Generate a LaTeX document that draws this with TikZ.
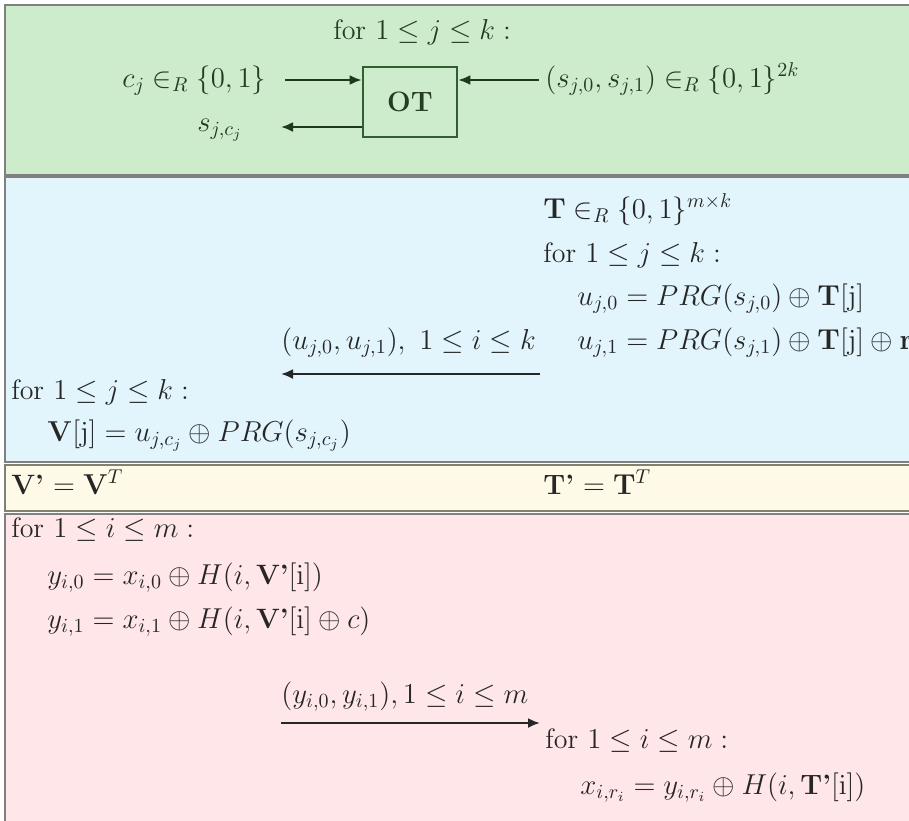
\documentclass[tikz,border=0pt]{standalone}
\usetikzlibrary{arrows.meta}
\definecolor{pgreen}{RGB}{205,236,204}
\definecolor{pblue}{RGB}{226,245,253}
\definecolor{pyellow}{RGB}{255,249,232}
\definecolor{ppink}{RGB}{255,231,233}
\definecolor{pborder}{RGB}{128,128,128}
\definecolor{otgreen}{RGB}{50,95,50}
\definecolor{gtext}{RGB}{35,60,35}
\tikzset{
  panel/.style={draw=pborder, line width=1.1pt},
  txt/.style={anchor=base west, inner sep=0pt, font=\fontsize{14}{17}\selectfont, text=black!85},
  gtxt/.style={txt, text=gtext},
  msg/.style={line width=1.1pt, -{Latex[length=6pt,width=5pt]}, draw=black!85},
  otarrow/.style={line width=1.1pt, -{Latex[length=6pt,width=5pt]}, draw=otgreen!60!black},
  otbox/.style={draw=otgreen, line width=1.3pt, fill=pgreen, minimum width=47pt, minimum height=35pt, inner sep=0pt, text=gtext, font=\fontsize{14}{17}\selectfont\bfseries}
}
\begin{document}
\begin{tikzpicture}[x=0.5pt,y=-0.5pt]
\useasboundingbox (0,0) rectangle (909,820);
% panels
\path[panel, fill=pgreen] (5,5) rectangle (920,175);
\path[panel, fill=pblue] (5,177) rectangle (920,462);
\path[panel, fill=pyellow, draw=pborder!90!olive] (5,465) rectangle (920,511);
\path[panel, fill=ppink] (5,514) rectangle (920,830);
% green: OT
\node[gtxt] (forOT) at (333,39) {for $1\le j\le k:$};
\node[gtxt] (cj) at (122,87) {$c_j\in_R\{0,1\}$};
\node[gtxt] (spair) at (545,87) {$(s_{j,0},s_{j,1})\in_R\{0,1\}^{2k}$};
\node[gtxt] (scj) at (197,131) {$s_{j,c_j}$};
\node[otbox] (ot) at (410,102) {OT};
\coordinate (cjend) at (285,80);
\coordinate (spairend) at (539,80);
\coordinate (scjend) at (281,127);
\draw[otarrow] (cjend) -- (ot.west |- cjend);
\draw[otarrow] (spairend) -- (ot.east |- spairend);
\draw[otarrow] (ot.west |- scjend) -- (scjend);
% blue
\node[txt] (T) at (543,218) {$\mathbf{T}\in_R\{0,1\}^{m\times k}$};
\node[txt] (forT) at (543,262) {for $1\le j\le k:$};
\node[txt] (u0) at (577,305) {$u_{j,0}=PRG(s_{j,0})\oplus\mathbf{T}[\mathrm{j}]$};
\node[txt] (u1) at (577,349) {$u_{j,1}=PRG(s_{j,1})\oplus\mathbf{T}[\mathrm{j}]\oplus\mathbf{r}$};
\node[txt] (ulab) at (281,349) {$(u_{j,0},u_{j,1}),\ 1\le i\le k$};
\coordinate (ua) at (540,374);
\coordinate (ub) at (281,374);
\draw[msg] (ua) -- (ub);
\node[txt] (forV) at (11,399) {for $1\le j\le k:$};
\node[txt] (V) at (47,441) {$\mathbf{V}[\mathrm{j}]=u_{j,c_j}\oplus PRG(s_{j,c_j})$};
% yellow
\node[txt] (Vp) at (11,494) {\textbf{V'} $=\mathbf{V}^T$};
\node[txt] (Tp) at (543,494) {\textbf{T'} $=\mathbf{T}^T$};
% pink
\node[txt] (forY) at (11,537) {for $1\le i\le m:$};
\node[txt] (y0) at (47,584) {$y_{i,0}=x_{i,0}\oplus H(i,\mbox{\textbf{V'}}[\mathrm{i}])$};
\node[txt] (y1) at (47,628) {$y_{i,1}=x_{i,1}\oplus H(i,\mbox{\textbf{V'}}[\mathrm{i}]\oplus c)$};
\node[txt] (ylab) at (281,703) {$(y_{i,0},y_{i,1}),1\le i\le m$};
\coordinate (ya) at (281,723);
\coordinate (yb) at (540,723);
\draw[msg] (ya) -- (yb);
\node[txt] (forX) at (545,748) {for $1\le i\le m:$};
\node[txt] (x) at (580,794) {$x_{i,r_i}=y_{i,r_i}\oplus H(i,\mbox{\textbf{T'}}[\mathrm{i}])$};
\end{tikzpicture}
\end{document}
